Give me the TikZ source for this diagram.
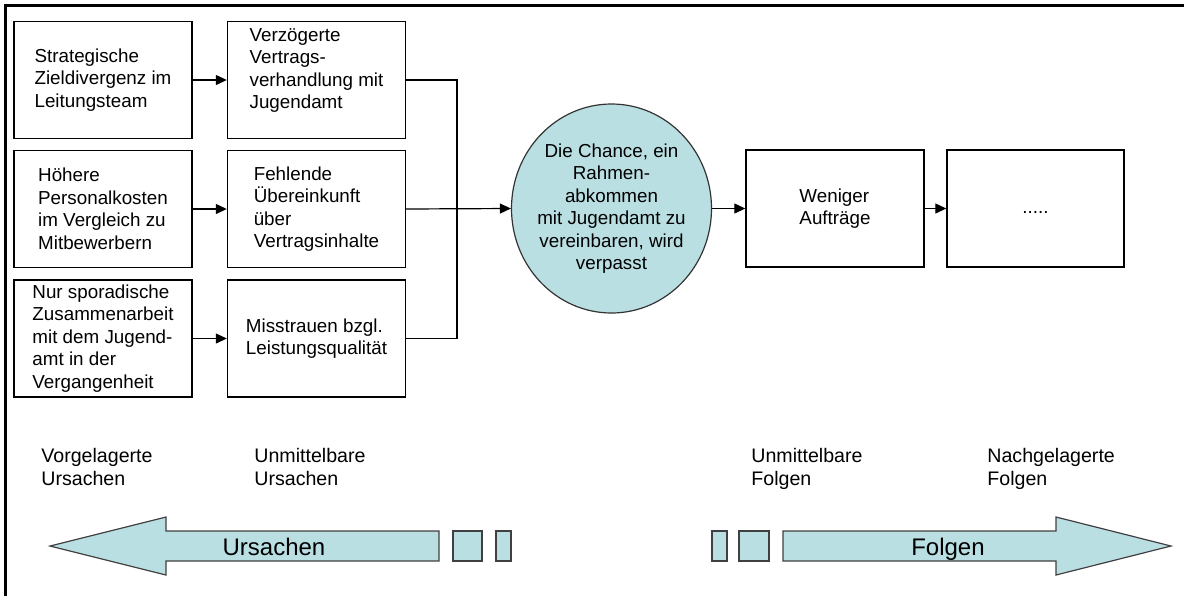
\documentclass[tikz,border=0pt]{standalone}
\usepackage{fontspec}
\setmainfont{Liberation Sans}
\usetikzlibrary{arrows.meta,shapes.geometric}
\definecolor{paleteal}{RGB}{186,223,227}
\begin{document}
\begin{tikzpicture}[x=0.5pt,y=-0.5pt,
  every node/.style={font=\fontsize{9.4}{11.25}\selectfont},
  causebox/.style={draw=black, line width=0.7pt, minimum width=89pt,
    minimum height=58.5pt, inner sep=0pt, align=left},
  chance/.style={ellipse, draw=black!80, line width=0.6pt, fill=paleteal,
    minimum width=100pt, minimum height=104.5pt, inner sep=-6pt, align=center},
  link/.style={line width=0.6pt, -{Triangle[length=5.5pt,width=5pt]}},
  joinline/.style={line width=0.6pt},
  band/.style={fill=paleteal, draw=black!75, line width=0.6pt},
  caption/.style={anchor=north west, inner sep=0pt, align=left,
    font=\fontsize{9.8}{11.5}\selectfont},
  bandlabel/.style={anchor=base, inner sep=0pt, font=\fontsize{12}{14}\selectfont}
]
\useasboundingbox (0,0) rectangle (1184,596);

% outer frame (top and left edges)
\draw[line width=1.5pt] (5.5,596) -- (5.5,5.5) -- (1184,5.5);

% earlier causes
\node[causebox] (a1) at (103,80)
  {Strategische\\Zieldivergenz im\\Leitungsteam};
\node[causebox] (a2) at (103,209)
  {Höhere\\Personalkosten\\im Vergleich zu\\Mitbewerbern};
\node[causebox] (a3) at (103,338.5)
  {Nur sporadische\\Zusammenarbeit\\mit dem Jugend-\\amt in der\\Vergangenheit};

% immediate causes (the first one sits a line higher in its box)
\node[causebox] (b1) at (316.5,80)
  {Verzögerte\\Vertrags-\\verhandlung mit\\Jugendamt\\\mbox{}};
\node[causebox] (b2) at (316.5,209)
  {Fehlende\\Übereinkunft\\über\\Vertragsinhalte};
\node[causebox] (b3) at (316.5,338.5)
  {Misstrauen bzgl.\\Leistungsqualität};

% central event
\node[chance] (ev) at (611.5,208.5)
  {Die Chance, ein\\Rahmen-\\abkommen\\mit Jugendamt zu\\vereinbaren, wird\\verpasst};

% consequences
\node[causebox] (c1) at (835,208.5) {Weniger\\Aufträge};
\node[causebox, minimum width=88.5pt] (c2) at (1035.5,208.5) {\strut.....};

% connectors
\draw[link] (a1) -- (b1);
\draw[link] (a2) -- (b2);
\draw[link] (a3) -- (b3);
\coordinate (j) at (457,209);
\draw[joinline] (b1.east) -| (j) |- (b3.east);
\draw[link] (b2.east) -- (ev.west);
\draw[link] (ev.east) -- (c1.west);
\draw[link] (c1.east) -- (c2.west);

% column captions
\node[caption] (cap1) at (41,448) {Vorgelagerte\\Ursachen};
\node[caption] (cap2) at (254,448) {Unmittelbare\\Ursachen};
\node[caption] (cap3) at (751,448) {Unmittelbare\\Folgen};
\node[caption] (cap4) at (987,448) {Nachgelagerte\\Folgen};

% causes band (pointing left)
\draw[band] (50,546) -- (166,517) -- (166,531) -- (439,531) -- (439,561)
  -- (166,561) -- (166,575) -- cycle;
\draw[band] (453,531) rectangle (482,561);
\draw[band] (496,531) rectangle (511,561);
\node[bandlabel] (ulabel) at (274,555) {Ursachen};

% consequences band (pointing right)
\draw[band] (712,531) rectangle (727,561);
\draw[band] (739,531) rectangle (769,561);
\draw[band] (1171,546) -- (1056,517) -- (1056,531) -- (783,531) -- (783,561)
  -- (1056,561) -- (1056,575) -- cycle;
\node[bandlabel] (flabel) at (948,555) {Folgen};
\end{tikzpicture}
\end{document}
